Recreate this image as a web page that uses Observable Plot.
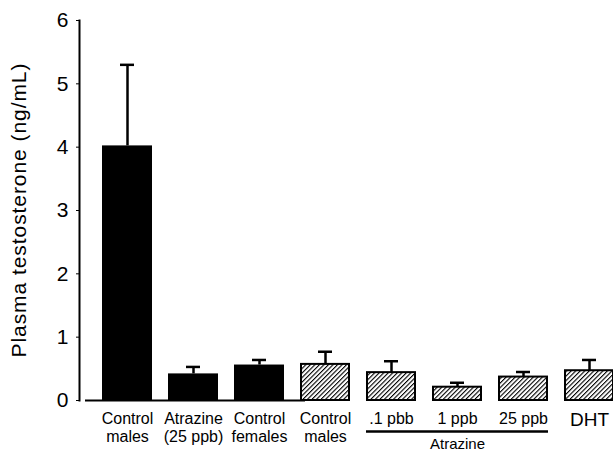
<!DOCTYPE html>
<html>
<head>
<meta charset="utf-8">
<script src="https://cdn.jsdelivr.net/npm/d3@7"></script>
<script src="https://cdn.jsdelivr.net/npm/@observablehq/plot@0.6"></script>
<style>
  html, body { margin: 0; padding: 0; background: #fff; }
  svg { font-family: "Liberation Sans", Arial, sans-serif; }
</style>
</head>
<body>
<svg width="0" height="0" style="position:absolute">
  <defs>
    <pattern id="hatch" patternUnits="userSpaceOnUse" width="3.2" height="3.2" patternTransform="rotate(45)">
      <rect width="3.2" height="3.2" fill="#fff"></rect>
      <line x1="0" y1="0" x2="0" y2="3.2" stroke="#000" stroke-width="2.2"></line>
    </pattern>
  </defs>
</svg>
<div id="chart"></div>
<script>
const ids = ["cm1", "atz25a", "cf", "cm2", "atz01", "atz1", "atz25b", "dht"];
const labels = ["Control\nmales", "Atrazine\n(25 ppb)", "Control\nfemales", "Control\nmales", ".1 pbb", "1 ppb", "25 ppb", "DHT"];
const groups = ["solid", "solid", "solid", "hatched", "hatched", "hatched", "hatched", "hatched"];
const means = [4.02, 0.42, 0.56, 0.57, 0.44, 0.21, 0.37, 0.47];
const upper = [5.30, 0.53, 0.64, 0.77, 0.62, 0.28, 0.45, 0.64];
const yTicks = [0, 1, 2, 3, 4, 5, 6];
const yLabel = "Plasma testosterone (ng/mL)";
const groupLabel = "Atrazine";

const rows = ids.map((id, i) => ({id, label: labels[i], group: groups[i], mean: means[i], upper: upper[i]}));
const solid = rows.filter(d => d.group === "solid");
const hatched = rows.filter(d => d.group === "hatched");

const chart = Plot.plot({
  width: 613,
  height: 451,
  marginTop: 20,
  marginBottom: 51,
  marginLeft: 79,
  marginRight: 0,
  x: {domain: ids, padding: 0.25, paddingOuter: 0.125, align: 1, axis: null},
  y: {domain: [0, 6]},
  marks: [
    Plot.frame({anchor: "left", strokeWidth: 2}),
    Plot.axisY({ticks: yTicks, tickFormat: d3.format("d"), tickSize: 3, tickPadding: 8, fontSize: 21, label: yLabel, labelAnchor: "center", labelArrow: "none", labelOffset: 68}),
    Plot.ruleY([{y: 0, a: ids[0], b: ids[2]}], {y: "y", x1: "a", x2: "b", insetLeft: -17, insetRight: -21, strokeWidth: 2}),
    Plot.ruleX(rows, {x: "id", y1: "mean", y2: "upper", strokeWidth: 2.5}),
    Plot.tickY(rows, {x: "id", y: "upper", strokeWidth: 2.5, insetLeft: 18, insetRight: 18}),
    Plot.barY(solid, {x: "id", y: "mean", fill: "#000"}),
    Plot.barY(hatched, {x: "id", y: "mean", fill: "url(#hatch)", stroke: "#000", strokeWidth: 2, insetLeft: 1, insetRight: 1}),
    Plot.text(rows.filter(d => d.id !== "dht"), {x: "id", text: "label", frameAnchor: "bottom", lineAnchor: "top", dy: 11, fontSize: 16, lineHeight: 1.13, fill: "#000"}),
    Plot.text(rows.filter(d => d.id === "dht"), {x: "id", text: "label", frameAnchor: "bottom", lineAnchor: "top", dy: 12, fontSize: 19, fill: "#000"}),
    Plot.ruleY([{y: 0, a: ids[4], b: ids[6]}], {y: "y", x1: "a", x2: "b", dy: 31, strokeWidth: 2.5}),
    Plot.text([{id: ids[5], t: groupLabel}], {x: "id", text: "t", frameAnchor: "bottom", lineAnchor: "top", dy: 38, fontSize: 15, fill: "#000"})
  ]
});
document.getElementById("chart").appendChild(chart);
const lab = chart.querySelector('[aria-label="y-axis label"] text');
if (lab) {
  lab.setAttribute("textLength", "294");
  lab.setAttribute("lengthAdjust", "spacing");
}
</script>
</body>
</html>
